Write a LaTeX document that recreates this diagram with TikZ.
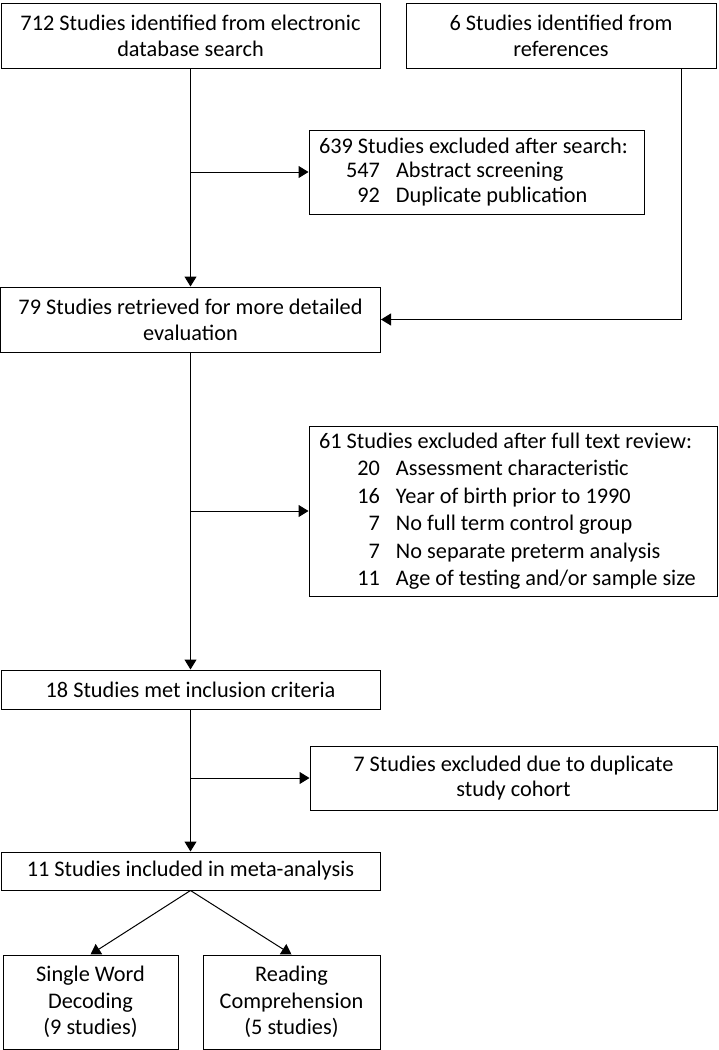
\documentclass[tikz,border=0pt]{standalone}
\usepackage{fontspec}
\setmainfont{Carlito}
\usepackage{tikz}
\usetikzlibrary{positioning,arrows.meta}

\newcommand{\reason}[2]{\\\makebox[61pt][r]{#1}\hspace{16pt}#2}

\begin{document}
\begin{tikzpicture}[x=1pt, y=-1pt, font=\fontsize{22.3}{26}\selectfont]

    % Define styles
    \tikzstyle{stage} = [rectangle, draw, line width=1pt, align=center, inner sep=0pt]
    \tikzstyle{excluded} = [rectangle, draw, line width=1pt, align=flush left, inner xsep=10pt, inner ysep=0pt]
    \tikzstyle{flow} = [line width=1pt, -{Triangle[length=10pt, width=12pt]}]

    \useasboundingbox (0,0) rectangle (718,1050);

    % Identification
    \node [stage, minimum width=379pt, minimum height=65pt] (ident) at (190.5,35.5) {712 Studies identified from electronic\\database search};
    \node [stage, minimum width=310pt, minimum height=65pt] (refs) at (561,35.5) {6 Studies identified from\\references};

    % Screening
    \node [excluded, text width=315pt, minimum height=84pt, font=\fontsize{22.3}{24.5}\selectfont] (excl_search) at (476.5,172) {639 Studies excluded after search:\reason{547}{Abstract screening}\reason{92}{Duplicate publication}};
    \node [stage, minimum width=380pt, minimum height=65pt] (retrieved) at (190.5,319.5) {79 Studies retrieved for more detailed\\evaluation};

    % Eligibility
    \node [excluded, text width=388pt, minimum height=170pt, font=\fontsize{22.3}{27.5}\selectfont] (excl_review) at (513,511) {61 Studies excluded after full text review:\reason{20}{Assessment characteristic}\reason{16}{Year of birth prior to 1990}\reason{7}{No full term control group}\reason{7}{No separate preterm analysis}\reason{11}{Age of testing and/or sample size}};
    \node [stage, minimum width=379pt, minimum height=39pt] (met) at (190.5,689.5) {18 Studies met inclusion criteria};
    \node [stage, minimum width=407pt, minimum height=64pt, font=\fontsize{22.3}{24.5}\selectfont] (excl_cohort) at (513.5,778) {7 Studies excluded due to duplicate\\study cohort};

    % Included
    \node [stage, minimum width=379pt, minimum height=38pt] (incl) at (190.5,871) {11 Studies included in meta-analysis};
    \node [stage, minimum width=175pt, minimum height=94pt, font=\fontsize{22.3}{26.5}\selectfont] (decoding) at (90.5,1002) {Single Word\\Decoding\\(9 studies)};
    \node [stage, minimum width=177pt, minimum height=94pt, font=\fontsize{22.3}{26.5}\selectfont] (compr) at (291.5,1002) {Reading\\Comprehension\\(5 studies)};

    % Flows
    \draw [flow] (ident.south) -- (retrieved.north);
    \draw [flow] (excl_search.west -| ident.south) -- (excl_search.west);
    \draw [flow] ([xshift=-35pt]refs.south east) |- (retrieved.east);
    \draw [flow] (retrieved.south) -- (met.north);
    \draw [flow] (excl_review.west -| retrieved.south) -- (excl_review.west);
    \draw [flow] (met.south) -- (incl.north);
    \draw [flow] (excl_cohort.west -| met.south) -- (excl_cohort.west);
    \draw [flow] (incl.south) -- (decoding.north);
    \draw [flow] (incl.south) -- (compr.north);

\end{tikzpicture}
\end{document}
